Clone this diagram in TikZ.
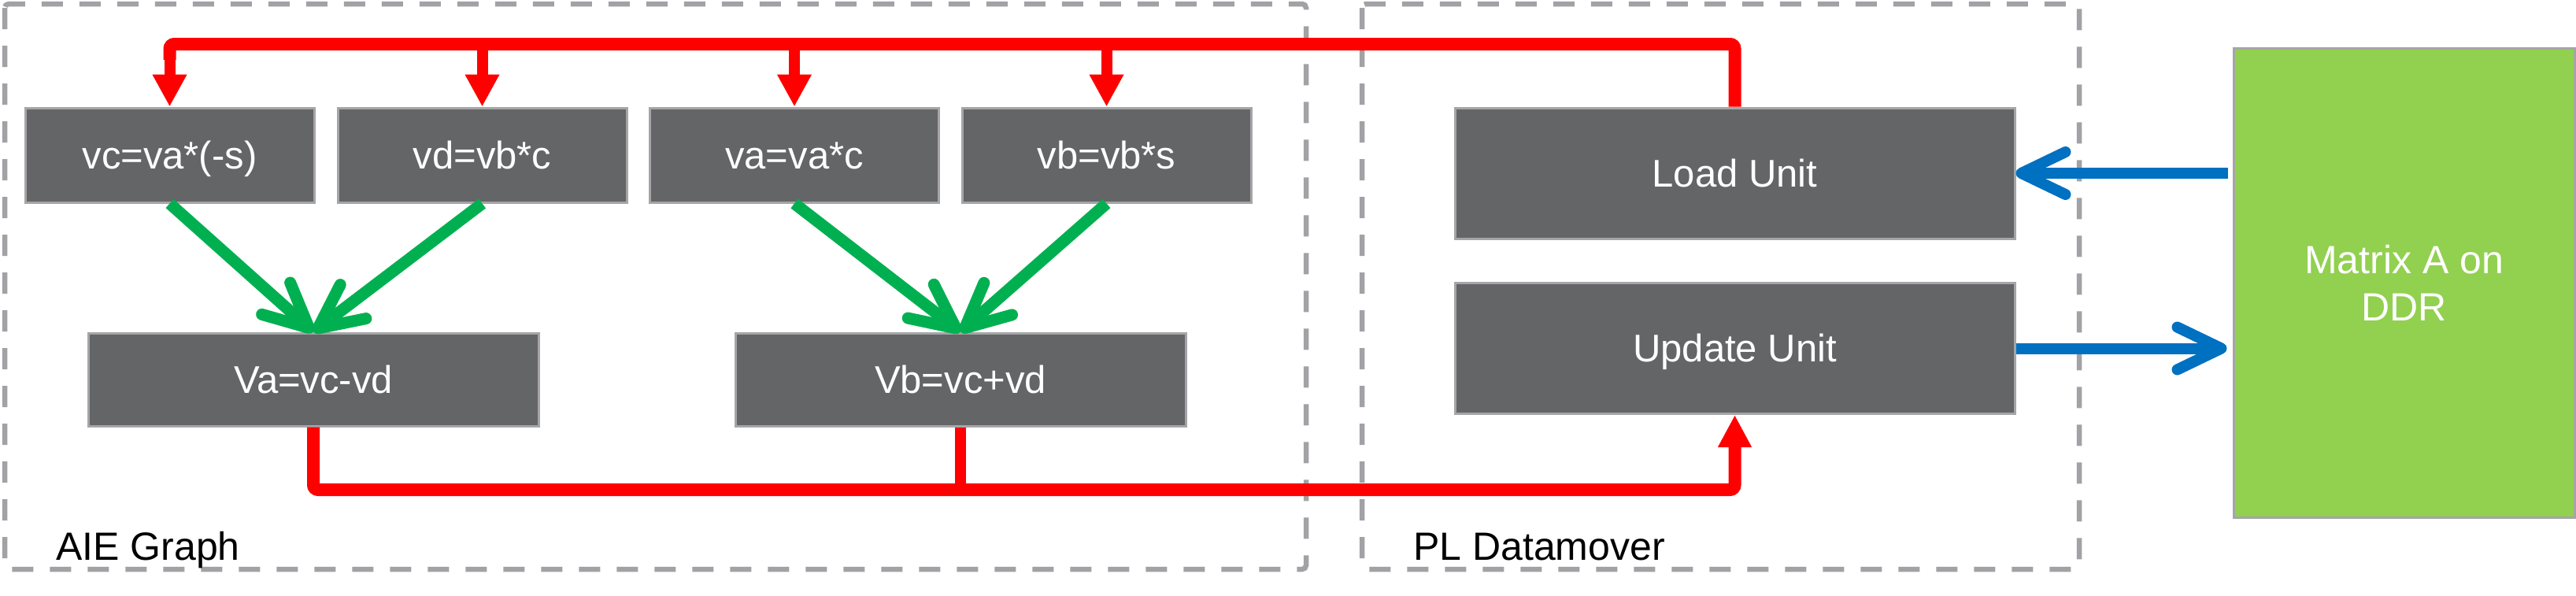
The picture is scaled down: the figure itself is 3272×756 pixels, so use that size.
\documentclass[tikz,border=0pt]{standalone}
\usepackage{fontspec}
\setmainfont{Liberation Sans}
\usetikzlibrary{arrows.meta}
\definecolor{boxgray}{HTML}{646567}
\definecolor{edgegray}{HTML}{A5A5A8}
\definecolor{dashgray}{HTML}{A2A2A6}
\definecolor{redc}{HTML}{FF0000}
\definecolor{greenc}{HTML}{00B050}
\definecolor{bluec}{HTML}{0070C0}
\definecolor{ddrgreen}{HTML}{92D050}
\begin{document}
\begin{tikzpicture}[x=1pt,y=-1pt,
  opbox/.style={draw=edgegray, line width=3pt, fill=boxgray, text=white, inner sep=0pt,
    text height=45pt, text depth=11pt,
    font=\fontsize{49}{58}\selectfont},
  smallop/.style={opbox, minimum width=367pt, minimum height=120pt},
  wideop/.style={opbox, minimum width=572pt, minimum height=118pt},
  unitbox/.style={opbox, minimum width=711pt, minimum height=166pt},
  ddrbox/.style={draw=edgegray, line width=3pt, fill=ddrgreen, text=white, inner sep=0pt,
    minimum width=433pt, minimum height=596pt, align=center,
    font=\fontsize{50}{60}\selectfont},
  dashbox/.style={draw=dashgray, line width=6.5pt, dash pattern=on 27pt off 21pt, rounded corners=5pt},
  grouplabel/.style={anchor=base west, inner sep=0pt, font=\fontsize{50}{60}\selectfont},
  redmain/.style={draw=redc, line width=16pt, rounded corners=6pt},
  reddrop/.style={draw=redc, line width=14pt, -{Triangle[length=41pt,width=41pt]}},
  greenarrow/.style={draw=greenc, line width=15pt,
    -{Straight Barb[length=56pt,width=54pt,round]}},
  bluearrow/.style={draw=bluec, line width=14pt,
    -{Straight Barb[length=56pt,width=54pt,round]}}
]
\useasboundingbox (0,0) rectangle (3272,756);

% group frames
\draw[dashbox] (6,5) rectangle (1659,723);
\draw[dashbox] (1730,5) rectangle (2641,723);
\node[grouplabel] (aielabel) at (71,711) {AIE Graph};
\node[grouplabel] (pllabel) at (1795,711) {PL Datamover};

% operator nodes
\node[smallop] (vc) at (215.5,197) {vc=va*(-s)};
\node[smallop] (vd) at (612.5,197) {vd=vb*c};
\node[smallop] (va) at (1009,197) {va=va*c};
\node[smallop] (vb) at (1405.5,197) {vb=vb*s};
\node[wideop] (Va) at (398,482) {Va=vc-vd};
\node[wideop] (Vb) at (1220,482) {Vb=vc+vd};

% PL units
\node[unitbox] (load) at (2203.5,220) {Load Unit};
\node[unitbox] (update) at (2203.5,442.5) {Update Unit};

% DDR
\node[ddrbox] (ddr) at (3053.5,359) {Matrix A on\\DDR};

\coordinate (topy) at (0,56);
\coordinate (boty) at (0,622);

% red distribution from Load Unit
\draw[redmain] (load.north) -- (load.north |- topy) -- (vc.north |- topy) -- ++(0,20);
\draw[reddrop] (vc.north |- topy) -- (vc.north);
\draw[reddrop] (vd.north |- topy) -- (vd.north);
\draw[reddrop] (va.north |- topy) -- (va.north);
\draw[reddrop] (vb.north |- topy) -- (vb.north);

% red collection to Update Unit
\draw[redmain, -{Triangle[length=41pt,width=40pt]}] (Va.south) |- (update.south |- boty) -- (update.south);
\draw[draw=redc, line width=14pt] (Vb.south) -- (Vb.south |- boty);

% green arrows
\draw[greenarrow] (vc.south) -- (Va.north);
\draw[greenarrow] (vd.south) -- (Va.north);
\draw[greenarrow] (va.south) -- (Vb.north);
\draw[greenarrow] (vb.south) -- (Vb.north);

% blue arrows
\draw[bluearrow, shorten <=6pt] (ddr.west |- load.east) -- (load.east);
\draw[bluearrow, shorten >=7pt] (update.east) -- (ddr.west |- update.east);
\end{tikzpicture}
\end{document}
